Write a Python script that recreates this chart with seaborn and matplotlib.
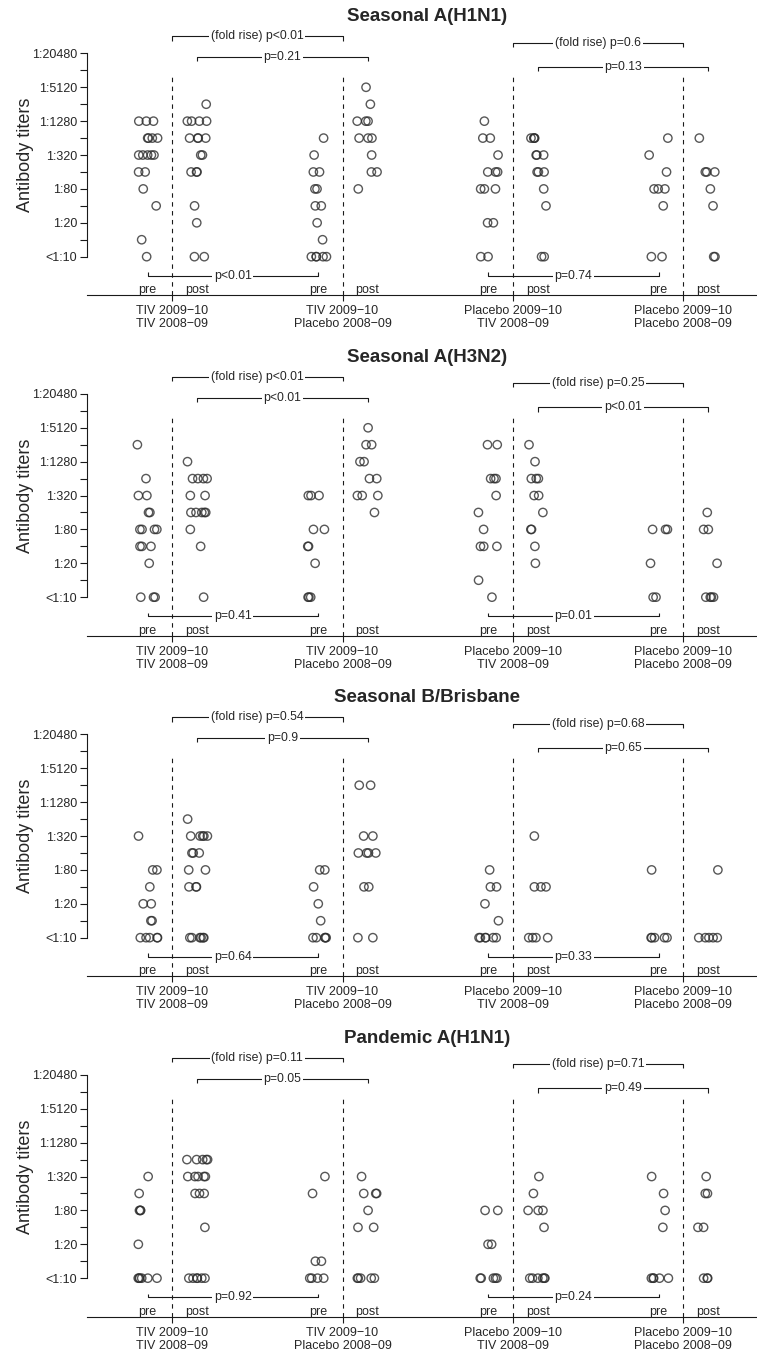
import numpy as np
import pandas as pd
import matplotlib
matplotlib.use("Agg")
import matplotlib.pyplot as plt
import seaborn as sns
from matplotlib.transforms import blended_transform_factory

# ---------------- data (reciprocal HI titers; 5 means "<1:10") ----------------
# Seasonal A(H1N1)
sh1_tt_pre  = [1280]*3 + [640]*4 + [320]*5 + [160]*2 + [80] + [40] + [10] + [5]
sh1_tt_post = [2560] + [1280]*4 + [640]*4 + [320]*2 + [160]*3 + [40] + [20] + [5]*2
sh1_tp_pre  = [640] + [320] + [160]*2 + [80]*2 + [40]*2 + [20] + [10] + [5]*5
sh1_tp_post = [5120] + [2560] + [1280]*3 + [640]*3 + [320] + [160]*2 + [80]
sh1_pt_pre  = [1280] + [640]*2 + [320] + [160]*3 + [80]*3 + [20]*2 + [5]*2
sh1_pt_post = [640]*4 + [320]*3 + [160]*3 + [80] + [40] + [5]*2
sh1_pp_pre  = [640] + [320] + [160] + [80]*3 + [40] + [5]*2
sh1_pp_post = [640] + [160]*3 + [80] + [40] + [5]*2

# Seasonal A(H3N2)
sh3_tt_pre  = [2560] + [640] + [320]*2 + [160]*2 + [80]*4 + [40]*3 + [20] + [5]*3
sh3_tt_post = [1280] + [640]*4 + [320]*2 + [160]*5 + [80] + [40] + [5]
sh3_tp_pre  = [320]*3 + [80]*2 + [40]*2 + [20] + [5]*3
sh3_tp_post = [5120] + [2560]*2 + [1280]*2 + [640]*2 + [320]*3 + [160]
sh3_pt_pre  = [2560]*2 + [640]*3 + [320] + [160] + [80] + [40]*3 + [10] + [5]
sh3_pt_post = [2560] + [1280] + [640]*3 + [320]*2 + [160] + [80]*2 + [40] + [20]
sh3_pp_pre  = [80]*3 + [20] + [5]*2
sh3_pp_post = [160] + [80]*2 + [20] + [5]*4

# Seasonal B/Brisbane
sb_tt_pre  = [320] + [80]*2 + [40] + [20]*2 + [10]*2 + [5]*5
sb_tt_post = [640] + [320]*5 + [160]*3 + [80]*2 + [40]*3 + [5]*6
sb_tp_pre  = [80]*2 + [40] + [20] + [10] + [5]*5
sb_tp_post = [2560]*2 + [320]*2 + [160]*4 + [40]*2 + [5]*2
sb_pt_pre  = [80] + [40]*2 + [20] + [10] + [5]*6
sb_pt_post = [320] + [40]*3 + [5]*4
sb_pp_pre  = [80] + [5]*5
sb_pp_post = [80] + [5]*5

# Pandemic A(H1N1)
pd_tt_pre  = [320] + [160] + [80]*3 + [20] + [5]*6
pd_tt_post = [640]*5 + [320]*5 + [160]*3 + [40] + [5]*6
pd_tp_pre  = [320] + [160] + [10]*2 + [5]*4
pd_tp_post = [320] + [160]*3 + [80] + [40]*2 + [5]*5
pd_pt_pre  = [80]*2 + [20]*2 + [5]*5
pd_pt_post = [320] + [160] + [80]*3 + [40] + [5]*6
pd_pp_pre  = [320] + [160] + [80] + [40] + [5]*5
pd_pp_post = [320] + [160]*2 + [40]*2 + [5]*3

titles = ["Seasonal A(H1N1)", "Seasonal A(H3N2)", "Seasonal B/Brisbane", "Pandemic A(H1N1)"]
panel_series = [
    [sh1_tt_pre, sh1_tt_post, sh1_tp_pre, sh1_tp_post, sh1_pt_pre, sh1_pt_post, sh1_pp_pre, sh1_pp_post],
    [sh3_tt_pre, sh3_tt_post, sh3_tp_pre, sh3_tp_post, sh3_pt_pre, sh3_pt_post, sh3_pp_pre, sh3_pp_post],
    [sb_tt_pre, sb_tt_post, sb_tp_pre, sb_tp_post, sb_pt_pre, sb_pt_post, sb_pp_pre, sb_pp_post],
    [pd_tt_pre, pd_tt_post, pd_tp_pre, pd_tp_post, pd_pt_pre, pd_pt_post, pd_pp_pre, pd_pp_post],
]
fold_left  = ["(fold rise) p<0.01", "(fold rise) p<0.01", "(fold rise) p=0.54", "(fold rise) p=0.11"]
post_left  = ["p=0.21", "p<0.01", "p=0.9", "p=0.05"]
pre_left   = ["p<0.01", "p=0.41", "p=0.64", "p=0.92"]
fold_right = ["(fold rise) p=0.6", "(fold rise) p=0.25", "(fold rise) p=0.68", "(fold rise) p=0.71"]
post_right = ["p=0.13", "p<0.01", "p=0.65", "p=0.49"]
pre_right  = ["p=0.74", "p=0.01", "p=0.33", "p=0.24"]
group_labels = ["TIV 2009\u221210\nTIV 2008\u221209",
                "TIV 2009\u221210\nPlacebo 2008\u221209",
                "Placebo 2009\u221210\nTIV 2008\u221209",
                "Placebo 2009\u221210\nPlacebo 2008\u221209"]
ytick_labels = ["<1:10", "", "1:20", "", "1:80", "", "1:320", "", "1:1280", "", "1:5120", "", "1:20480"]

# ---------------- styling ----------------
sns.set_style("ticks")
plt.rcParams["font.family"] = ["Liberation Sans", "DejaVu Sans"]

W, H = 757, 1357
fig = plt.figure(figsize=(W / 100, H / 100), dpi=100)

PX_PER_LEVEL = 16.94
YLO, YHI = -2.28, 14.9
PRE_OFF, POST_OFF = -0.144, 0.147
DIVIDERS = [1, 2, 3, 4]
np.random.seed(7)

def bracket(ax, x0, x1, y, text, h):
    ax.plot([x0, x0, x1, x1], [y - h, y, y, y - h], color="#1a1a1a", lw=0.8,
            clip_on=False, solid_capstyle="butt")
    ax.text((x0 + x1) / 2, y, text, ha="center", va="center", fontsize=8.8,
            bbox=dict(facecolor="white", edgecolor="none", pad=1.2), zorder=5)

for i in range(4):
    axis_line_px = 295.3 + 340.5 * i
    height_px = (YHI - YLO) * PX_PER_LEVEL
    ax = fig.add_axes([87 / W, (H - axis_line_px) / H, (W - 87) / W, height_px / H])

    xs, lv = [], []
    for g, series in enumerate(panel_series[i]):
        xpos = DIVIDERS[g // 2] + (PRE_OFF if g % 2 == 0 else POST_OFF)
        for t in series:
            xs.append(xpos)
            lv.append(np.log2(t / 5))
    df = pd.DataFrame({"x": xs, "level": lv})

    sns.stripplot(data=df, x="x", y="level", native_scale=True, orient="x",
                  jitter=0.21, ax=ax, marker="o", facecolor="none",
                  edgecolor="#2e2e2e", linewidth=1.0, size=6.0, alpha=0.8)

    ax.set_xlim(0.5, 4.433)
    ax.set_ylim(YLO, YHI)
    ax.set_xlabel("")
    ax.set_ylabel("")
    sns.despine(ax=ax, top=True, right=True)
    ax.spines["left"].set_bounds(0, 12)
    for s in ("left", "bottom"):
        ax.spines[s].set_linewidth(0.8)
        ax.spines[s].set_color("#1a1a1a")

    ax.set_yticks(range(13))
    ax.set_yticklabels(ytick_labels, fontsize=9)
    ax.set_xticks(DIVIDERS)
    ax.set_xticklabels(group_labels, fontsize=9, linespacing=1.15)
    ax.tick_params(axis="y", length=5, width=0.8, pad=2, color="#1a1a1a")
    ax.tick_params(axis="x", length=4, width=0.8, pad=3, color="#1a1a1a")

    # vertical dashed dividers
    for d in DIVIDERS:
        ax.plot([d, d], [YLO, 10.7], color="#1a1a1a", lw=0.8, ls=(0, (4, 4)))

    # pre / post labels
    for d in DIVIDERS:
        ax.text(d + PRE_OFF, -1.97, "pre", ha="center", va="center", fontsize=9)
        ax.text(d + POST_OFF, -1.97, "post", ha="center", va="center", fontsize=9)

    # brackets
    bracket(ax, 1, 2, 13.0, fold_left[i], 0.24)
    bracket(ax, 1 + POST_OFF, 2 + POST_OFF, 11.77, post_left[i], 0.24)
    bracket(ax, 3, 4, 12.63, fold_right[i], 0.24)
    bracket(ax, 3 + POST_OFF, 4 + POST_OFF, 11.2, post_right[i], 0.24)
    bracket(ax, 1 + PRE_OFF, 2 + PRE_OFF, -1.12, pre_left[i], -0.2)
    bracket(ax, 3 + PRE_OFF, 4 + PRE_OFF, -1.12, pre_right[i], -0.2)

    # title and y label
    ax.text(2.495, 14.15, titles[i], ha="center", va="center", fontsize=13.5,
            fontweight="bold", clip_on=False)
    tr = blended_transform_factory(ax.transAxes, ax.transData)
    ax.text(-0.0925, 6, "Antibody titers", transform=tr, rotation=90,
            ha="center", va="center", fontsize=13)

fig.savefig("out.png", dpi=100)
